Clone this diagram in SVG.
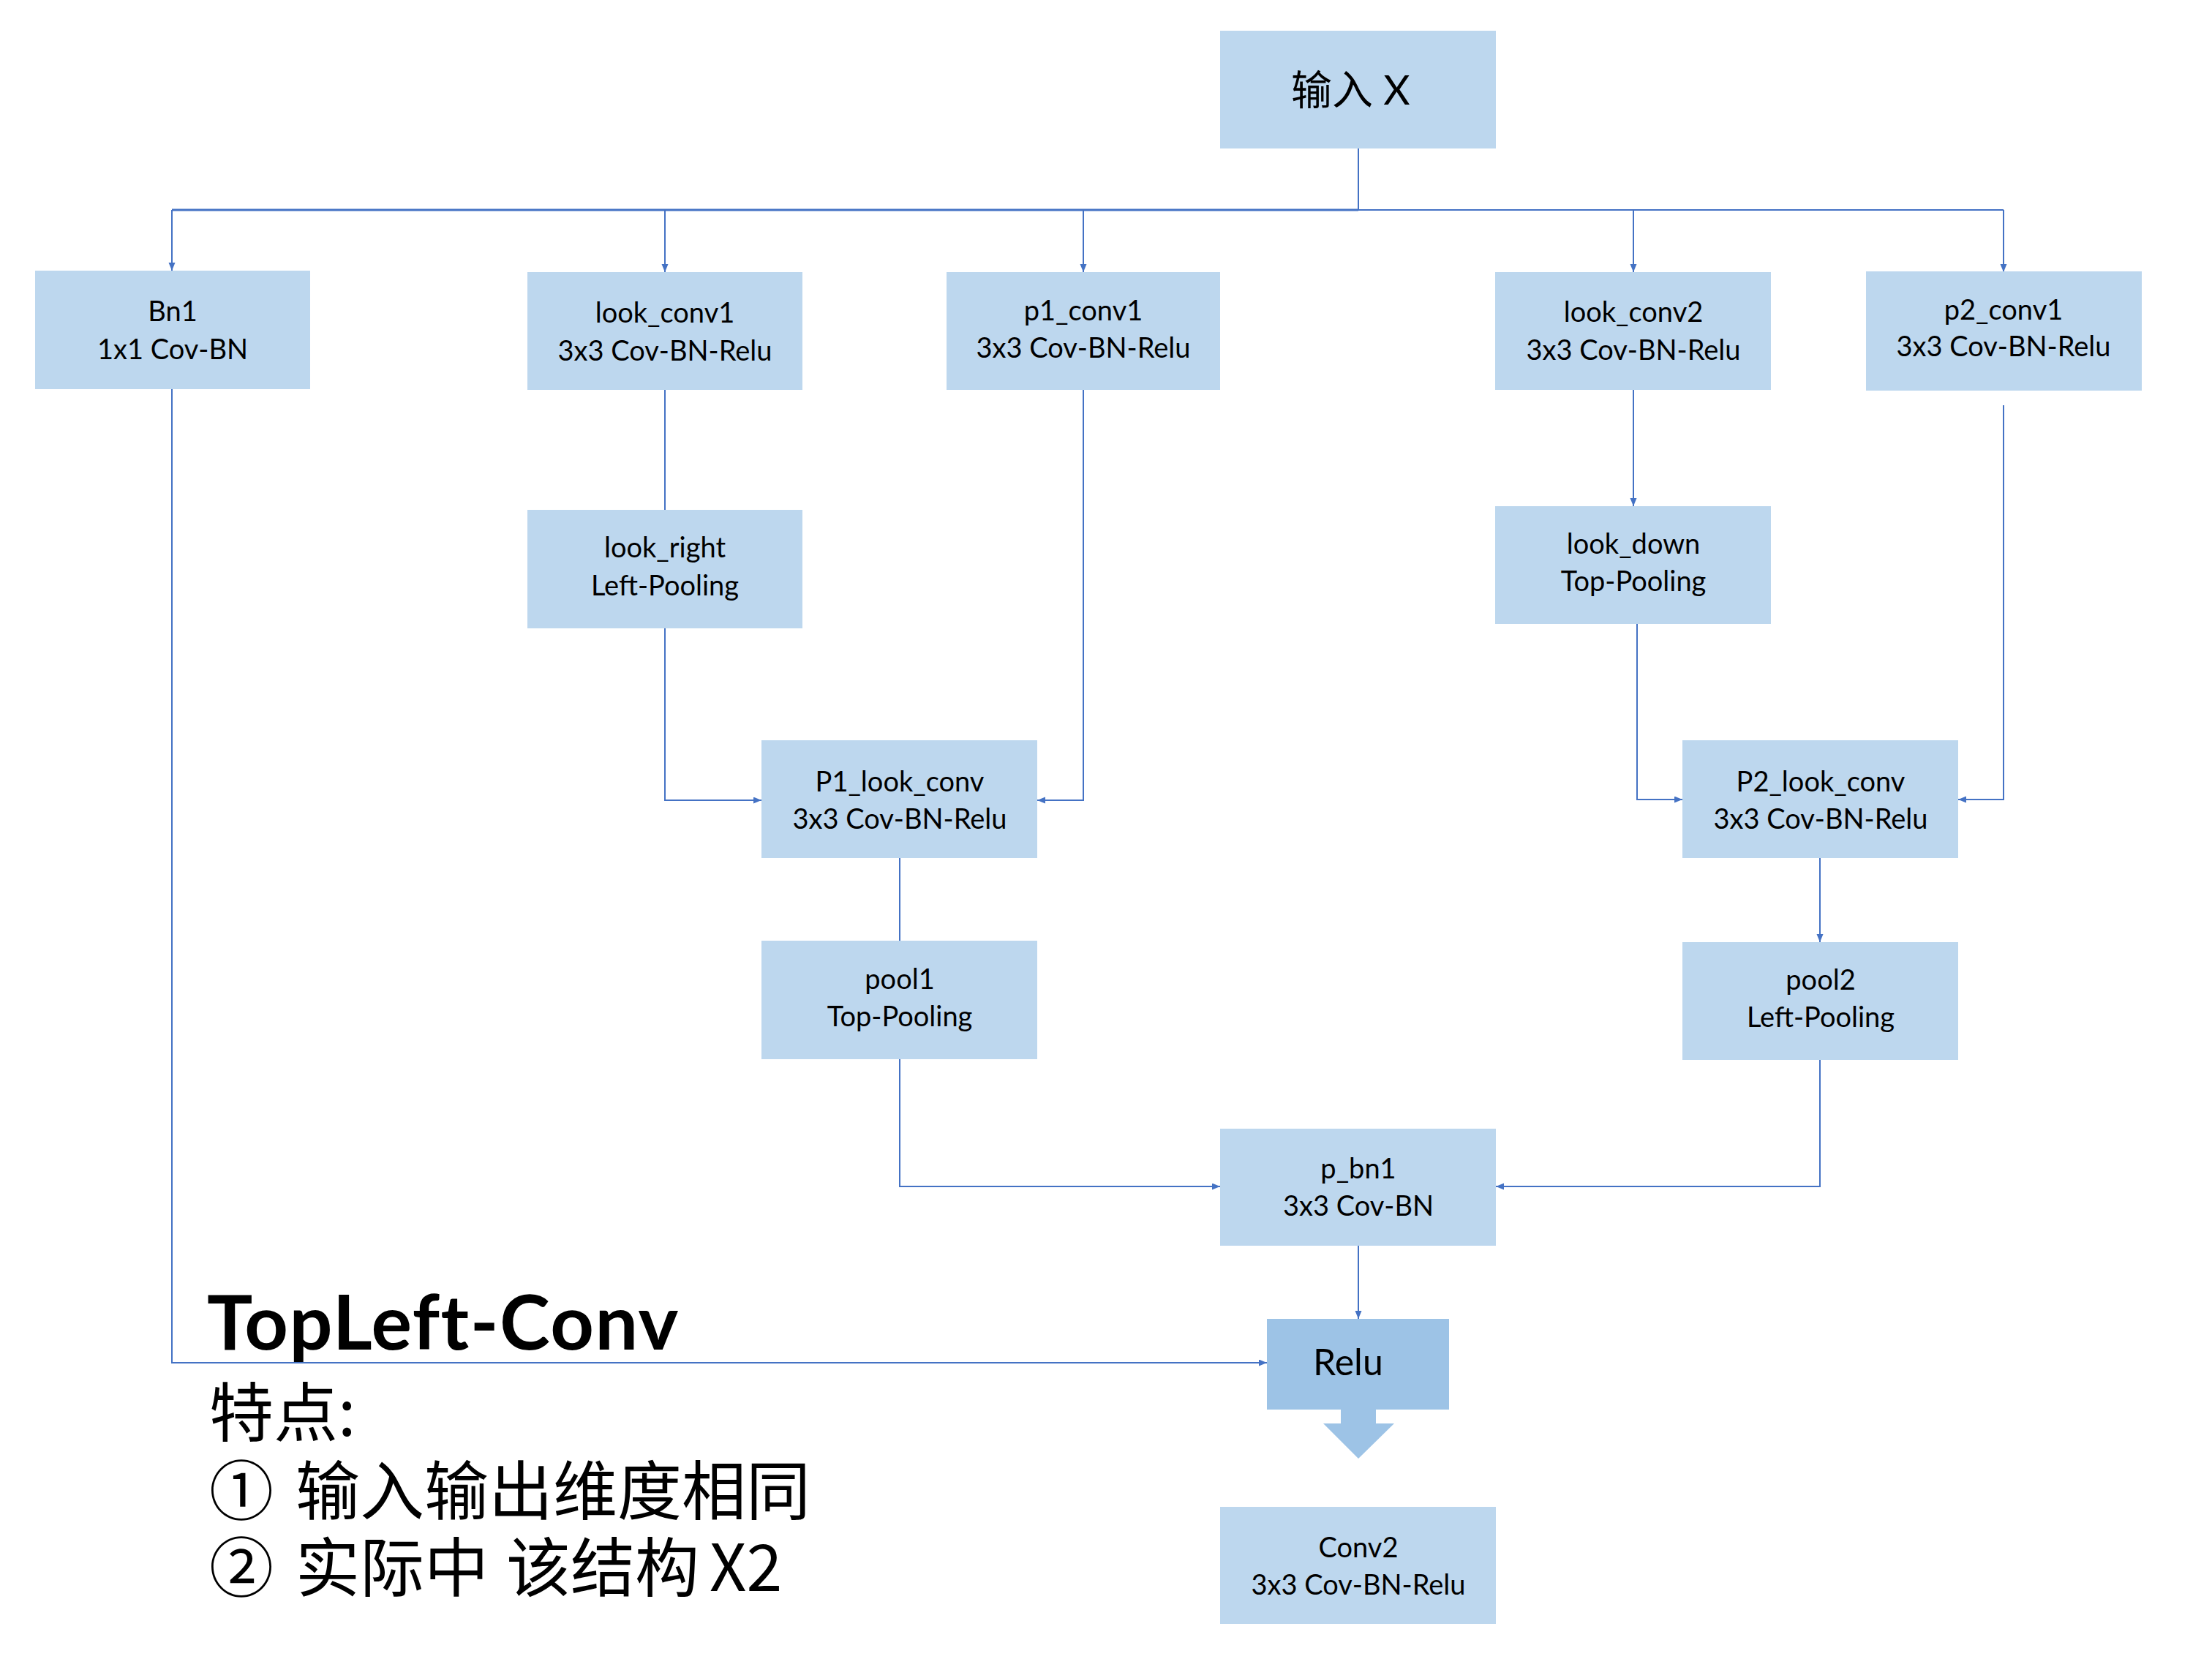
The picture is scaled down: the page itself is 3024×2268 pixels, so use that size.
<svg xmlns="http://www.w3.org/2000/svg" width="3024" height="2268" viewBox="0 0 3024 2268">
<style>
.box{fill:#BDD7EE}
.relu{fill:#9DC3E6}
.lbl{font-family:"Lato","Noto Sans CJK SC",sans-serif;font-size:38px;fill:#000;text-anchor:middle}
.conn{fill:none;stroke:#4472C4;stroke-width:2}
.cjk{font-family:"Noto Sans CJK SC",sans-serif;font-size:88px;fill:#000}
</style>
<defs>
<marker id="arr" markerUnits="userSpaceOnUse" markerWidth="12" markerHeight="10" refX="11" refY="4.5" orient="auto">
<path d="M0,0 L11,4.5 L0,9 z" fill="#4472C4"/>
</marker>
</defs>
<rect width="3024" height="2268" fill="#FFFFFF"/>
<g id="connectors">
<path class="conn" d="M1857,203 V287"/>
<path class="conn" style="stroke-width:3" d="M235,287 H1857"/>
<path class="conn" d="M1857,287 H2739"/>
<path class="conn" marker-end="url(#arr)" d="M235,287 V370"/>
<path class="conn" marker-end="url(#arr)" d="M909,287 V372"/>
<path class="conn" marker-end="url(#arr)" d="M1481,287 V372"/>
<path class="conn" marker-end="url(#arr)" d="M2233,287 V372"/>
<path class="conn" marker-end="url(#arr)" d="M2739,287 V372"/>
<path class="conn" d="M909,533 V697"/>
<path class="conn" marker-end="url(#arr)" d="M909,859 V1094 H1041"/>
<path class="conn" marker-end="url(#arr)" d="M1481,533 V1094 H1418"/>
<path class="conn" d="M1230,1173 V1286"/>
<path class="conn" marker-end="url(#arr)" d="M1230,1448 V1622 H1668"/>
<path class="conn" marker-end="url(#arr)" d="M2233,533 V692"/>
<path class="conn" marker-end="url(#arr)" d="M2238,853 V1093 H2300"/>
<path class="conn" marker-end="url(#arr)" d="M2739,554 V1093 H2677"/>
<path class="conn" marker-end="url(#arr)" d="M2488,1173 V1288"/>
<path class="conn" marker-end="url(#arr)" d="M2488,1449 V1622 H2045"/>
<path class="conn" marker-end="url(#arr)" d="M1857,1703 V1803"/>
<path class="conn" marker-end="url(#arr)" d="M235,532 V1863 H1732"/>
</g>
<g id="input">
<rect class="box" x="1668" y="42" width="377" height="161"/>
<text x="1765" y="143" style="font-family:'Lato','Noto Sans CJK SC',sans-serif;font-size:56px">输入 X</text>
</g>
<g id="bn1">
<rect class="box" x="48" y="370" width="376" height="162"/>
<text class="lbl" x="236" y="439">Bn1</text>
<text class="lbl" x="236" y="491">1x1 Cov-BN</text>
</g>
<g id="look_conv1">
<rect class="box" x="721" y="372" width="376" height="161"/>
<text class="lbl" x="909" y="441">look_conv1</text>
<text class="lbl" x="909" y="493">3x3 Cov-BN-Relu</text>
</g>
<g id="p1_conv1">
<rect class="box" x="1294" y="372" width="374" height="161"/>
<text class="lbl" x="1481" y="438">p1_conv1</text>
<text class="lbl" x="1481" y="489">3x3 Cov-BN-Relu</text>
</g>
<g id="look_conv2">
<rect class="box" x="2044" y="372" width="377" height="161"/>
<text class="lbl" x="2233" y="440">look_conv2</text>
<text class="lbl" x="2233" y="492">3x3 Cov-BN-Relu</text>
</g>
<g id="p2_conv1">
<rect class="box" x="2551" y="371" width="377" height="163"/>
<text class="lbl" x="2739" y="437">p2_conv1</text>
<text class="lbl" x="2739" y="487">3x3 Cov-BN-Relu</text>
</g>
<g id="look_right">
<rect class="box" x="721" y="697" width="376" height="162"/>
<text class="lbl" x="909" y="762">look_right</text>
<text class="lbl" x="909" y="814">Left-Pooling</text>
</g>
<g id="look_down">
<rect class="box" x="2044" y="692" width="377" height="161"/>
<text class="lbl" x="2233" y="757">look_down</text>
<text class="lbl" x="2233" y="808">Top-Pooling</text>
</g>
<g id="p1_look_conv">
<rect class="box" x="1041" y="1012" width="377" height="161"/>
<text class="lbl" x="1230" y="1082">P1_look_conv</text>
<text class="lbl" x="1230" y="1133">3x3 Cov-BN-Relu</text>
</g>
<g id="p2_look_conv">
<rect class="box" x="2300" y="1012" width="377" height="161"/>
<text class="lbl" x="2489" y="1082">P2_look_conv</text>
<text class="lbl" x="2489" y="1133">3x3 Cov-BN-Relu</text>
</g>
<g id="pool1">
<rect class="box" x="1041" y="1286" width="377" height="162"/>
<text class="lbl" x="1230" y="1352">pool1</text>
<text class="lbl" x="1230" y="1403">Top-Pooling</text>
</g>
<g id="pool2">
<rect class="box" x="2300" y="1288" width="377" height="161"/>
<text class="lbl" x="2489" y="1353">pool2</text>
<text class="lbl" x="2489" y="1404">Left-Pooling</text>
</g>
<g id="p_bn1">
<rect class="box" x="1668" y="1543" width="377" height="160"/>
<text class="lbl" x="1857" y="1611">p_bn1</text>
<text class="lbl" x="1857" y="1662">3x3 Cov-BN</text>
</g>
<g id="relu">
<rect class="relu" x="1732" y="1803" width="249" height="124"/>
<polygon class="relu" points="1833,1927 1833,1946 1809,1946 1857,1994 1906,1946 1881,1946 1881,1927"/>
<text x="1795" y="1880" style="font-family:'Lato',sans-serif;font-size:50px;fill:#000">Relu</text>
</g>
<g id="conv2">
<rect class="box" x="1668" y="2060" width="377" height="160"/>
<text class="lbl" x="1857" y="2129">Conv2</text>
<text class="lbl" x="1857" y="2180">3x3 Cov-BN-Relu</text>
</g>
<g id="notes">
<text x="283" y="1845" style="font-family:'Lato',sans-serif;font-weight:bold;font-size:104px;letter-spacing:1.5px;fill:#000">TopLeft-Conv</text>
<text class="cjk" x="286" y="1963">特点:</text>
<text class="cjk" x="286" y="2070">① <tspan x="404">输入输出维度相同</tspan></text>
<text class="cjk" x="286" y="2175">② <tspan x="404">实际中 </tspan><tspan x="692">该结构 </tspan><tspan x="970">X2</tspan></text>
</g>
</svg>
